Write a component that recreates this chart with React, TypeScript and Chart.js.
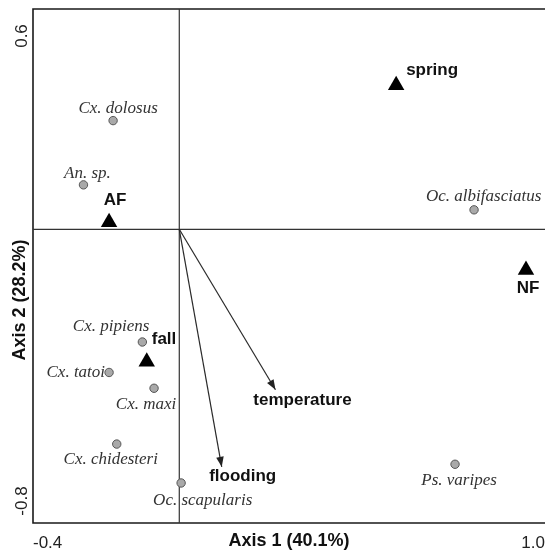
import { useEffect, useRef } from 'react';
import { Chart, registerables } from 'chart.js';
Chart.register(...registerables);

// Species scores (grey circles)
const speciesNames = ['Cx. dolosus', 'An. sp.', 'Oc. albifasciatus', 'Cx. pipiens', 'Cx. tatoi', 'Cx. maxi', 'Cx. chidesteri', 'Oc. scapularis', 'Ps. varipes'];
const speciesAxis1 = [-0.181, -0.262, 0.806, -0.101, -0.192, -0.069, -0.171, 0.005, 0.754];
const speciesAxis2 = [0.296, 0.121, 0.053, -0.307, -0.390, -0.433, -0.585, -0.691, -0.640];

// Site / season scores (black triangles)
const siteNames = ['spring', 'AF', 'NF', 'fall'];
const siteAxis1 = [0.593, -0.192, 0.948, -0.089];
const siteAxis2 = [0.392, 0.019, -0.111, -0.361];

// Environmental vectors (arrows from origin)
const vectorNames = ['temperature', 'flooding'];
const vectorAxis1 = [0.263, 0.116];
const vectorAxis2 = [-0.437, -0.647];

// Axis tick labels
const axis1Ticks = [-0.4, 1.0];
const axis2Ticks = [0.6, -0.8];

const SANS = "'Liberation Sans', Arial, Helvetica, sans-serif";
const SERIF = "'Liberation Serif', 'Times New Roman', serif";

// label placement relative to the mark: [dx, dy, align]
const labelPlace: Record<string, [number, number, CanvasTextAlign]> = {
  'Cx. dolosus': [5, -12, 'center'],
  'An. sp.': [4, -11, 'center'],
  'Oc. albifasciatus': [-48, -13, 'left'],
  'Cx. pipiens': [7, -15, 'right'],
  'Cx. tatoi': [-4, 0, 'right'],
  'Cx. maxi': [-8, 16, 'center'],
  'Cx. chidesteri': [-6, 15, 'center'],
  'Oc. scapularis': [-28, 18, 'left'],
  'Ps. varipes': [4, 16, 'center'],
  spring: [10, -15, 'left'],
  AF: [6, -22, 'center'],
  NF: [2, 18, 'center'],
  fall: [5, -23, 'left'],
  temperature: [27, 11, 'center'],
  flooding: [21, 9, 'center'],
};
const yTickInset = [27, -22];

const decor = {
  id: 'decor',
  beforeDatasetsDraw(chart: any) {
    const { ctx, chartArea: a, scales } = chart;
    const x = scales.x, y = scales.y;
    const ox = x.getPixelForValue(0), oy = y.getPixelForValue(0);
    ctx.save();
    ctx.strokeStyle = '#1a1a1a';
    ctx.lineWidth = 1.6;
    ctx.beginPath();
    ctx.moveTo(a.right + 4, a.top);
    ctx.lineTo(a.left, a.top);
    ctx.lineTo(a.left, a.bottom);
    ctx.lineTo(a.right + 4, a.bottom);
    ctx.stroke();
    ctx.strokeStyle = '#333';
    ctx.lineWidth = 1.2;
    ctx.beginPath();
    ctx.moveTo(ox, a.top);
    ctx.lineTo(ox, a.bottom);
    ctx.moveTo(a.left, oy);
    ctx.lineTo(a.right + 4, oy);
    ctx.stroke();

    // y tick labels (rotated)
    ctx.fillStyle = '#222';
    ctx.font = `17px ${SANS}`;
    ctx.textAlign = 'center';
    ctx.textBaseline = 'middle';
    axis2Ticks.forEach((v, i) => {
      const py = y.getPixelForValue(v) + yTickInset[i];
      ctx.save();
      ctx.translate(22, py);
      ctx.rotate(-Math.PI / 2);
      ctx.fillText(v.toFixed(1), 0, 0);
      ctx.restore();
    });
    // y title
    ctx.save();
    ctx.font = `bold 18px ${SANS}`;
    ctx.fillStyle = '#111';
    ctx.translate(20, 300);
    ctx.rotate(-Math.PI / 2);
    ctx.fillText('Axis 2 (28.2%)', 0, 0);
    ctx.restore();
    ctx.restore();
  },
  afterDatasetsDraw(chart: any) {
    const { ctx, scales } = chart;
    const x = scales.x, y = scales.y;
    const ox = x.getPixelForValue(0), oy = y.getPixelForValue(0);
    ctx.save();
    // arrowheads
    ctx.fillStyle = '#222';
    vectorNames.forEach((_, i) => {
      const tx = x.getPixelForValue(vectorAxis1[i]);
      const ty = y.getPixelForValue(vectorAxis2[i]);
      const ang = Math.atan2(ty - oy, tx - ox);
      const L = 10, W = 3.8;
      ctx.beginPath();
      ctx.moveTo(tx, ty);
      ctx.lineTo(tx - L * Math.cos(ang) + W * Math.sin(ang), ty - L * Math.sin(ang) - W * Math.cos(ang));
      ctx.lineTo(tx - L * Math.cos(ang) - W * Math.sin(ang), ty - L * Math.sin(ang) + W * Math.cos(ang));
      ctx.closePath();
      ctx.fill();
    });
    ctx.textBaseline = 'middle';
    const put = (name: string, px: number, py: number) => {
      const p = labelPlace[name] || [0, 0, 'center'];
      ctx.textAlign = p[2];
      ctx.fillText(name, px + p[0], py + p[1]);
    };
    ctx.font = `italic 17px ${SERIF}`;
    ctx.fillStyle = '#333';
    speciesNames.forEach((n, i) => put(n, x.getPixelForValue(speciesAxis1[i]), y.getPixelForValue(speciesAxis2[i])));
    ctx.font = `bold 17px ${SANS}`;
    ctx.fillStyle = '#111';
    siteNames.forEach((n, i) => put(n, x.getPixelForValue(siteAxis1[i]), y.getPixelForValue(siteAxis2[i])));
    vectorNames.forEach((n, i) => put(n, x.getPixelForValue(vectorAxis1[i]), y.getPixelForValue(vectorAxis2[i])));
    ctx.restore();
  },
};

export default function App() {
  const ref = useRef<HTMLCanvasElement | null>(null);
  useEffect(() => {
    if (!ref.current) return;
    const arrowSets = vectorNames.map((n, i) => ({
      label: n,
      data: [{ x: 0, y: 0 }, { x: vectorAxis1[i], y: vectorAxis2[i] }],
      showLine: true,
      borderColor: '#2a2a2a',
      borderWidth: 1.2,
      pointRadius: 0,
      fill: false,
    }));
    const chart = new Chart(ref.current, {
      type: 'scatter',
      data: {
        datasets: [
          ...arrowSets,
          {
            label: 'species',
            data: speciesAxis1.map((v, i) => ({ x: v, y: speciesAxis2[i] })),
            pointStyle: 'circle',
            pointRadius: 4.2,
            backgroundColor: '#a9a9a9',
            borderColor: '#555',
            borderWidth: 1,
          },
          {
            label: 'sites',
            data: siteAxis1.map((v, i) => ({ x: v, y: siteAxis2[i] })),
            pointStyle: 'triangle',
            pointRadius: 9.5,
            backgroundColor: '#000',
            borderColor: '#000',
            borderWidth: 0,
          },
        ] as any,
      },
      options: {
        responsive: false,
        animation: false,
        events: [],
        layout: { autoPadding: false, padding: { left: 33, top: 9, right: -3, bottom: 0 } },
        plugins: { legend: { display: false }, tooltip: { enabled: false } },
        scales: {
          x: {
            type: 'linear',
            min: -0.4,
            max: 1.0,
            grid: { display: false },
            border: { display: false },
            afterBuildTicks: (s: any) => {
              s.ticks = axis1Ticks.map((v) => ({ value: v }));
            },
            afterFit: (s: any) => {
              s.height = 29;
              s.paddingLeft = 0;
              s.paddingRight = 0;
            },
            ticks: {
              align: 'inner',
              padding: 2,
              color: '#222',
              autoSkip: false,
              maxRotation: 0,
              font: { family: SANS, size: 17 },
              callback: (v: any) => Number(v).toFixed(1),
            },
            title: {
              display: true,
              text: 'Axis 1 (40.1%)',
              color: '#111',
              font: { family: SANS, size: 18, weight: 'bold' },
              padding: 0,
            },
          },
          y: {
            type: 'linear',
            min: -0.8,
            max: 0.6,
            display: false,
          },
        },
      } as any,
      plugins: [decor],
    });
    return () => chart.destroy();
  }, []);
  return (
    <div style={{ position: 'absolute', left: 0, top: 0, width: 545, height: 552, background: '#fff' }}>
      <canvas ref={ref} width={545} height={552} style={{ width: 545, height: 552, display: 'block' }} />
    </div>
  );
}
